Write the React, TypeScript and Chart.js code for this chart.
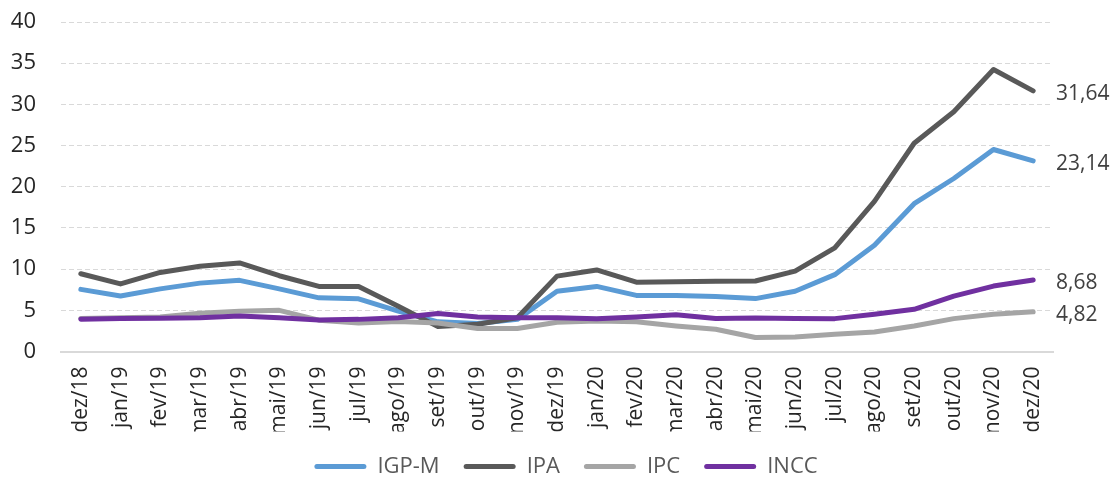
import React, { useEffect, useRef } from "react";
import { Chart, registerables } from "chart.js";

Chart.register(...registerables);

const categories = [
  "dez/18", "jan/19", "fev/19", "mar/19", "abr/19", "mai/19", "jun/19", "jul/19",
  "ago/19", "set/19", "out/19", "nov/19", "dez/19", "jan/20", "fev/20", "mar/20",
  "abr/20", "mai/20", "jun/20", "jul/20", "ago/20", "set/20", "out/20", "nov/20", "dez/20",
];

const seriesNames = ["IGP-M", "IPA", "IPC", "INCC"];

const igpm = [7.54, 6.74, 7.6, 8.3, 8.64, 7.6, 6.51, 6.4, 4.9, 3.6, 3.4, 3.9, 7.32, 7.9, 6.81, 6.81, 6.68, 6.42, 7.31, 9.33, 12.9, 17.94, 21.0, 24.52, 23.14];
const ipa = [9.44, 8.2, 9.6, 10.36, 10.75, 9.2, 7.9, 7.88, 5.5, 3.02, 3.3, 4.1, 9.15, 9.9, 8.42, 8.46, 8.52, 8.56, 9.75, 12.58, 18.22, 25.28, 29.1, 34.24, 31.64];
const ipc = [4.0, 4.1, 4.2, 4.65, 4.9, 5.0, 3.8, 3.45, 3.63, 3.45, 2.8, 2.8, 3.55, 3.7, 3.6, 3.1, 2.7, 1.7, 1.77, 2.09, 2.37, 3.1, 3.99, 4.51, 4.82];
const incc = [3.91, 4.0, 4.04, 4.11, 4.31, 4.11, 3.82, 3.9, 4.1, 4.6, 4.2, 4.1, 4.1, 3.99, 4.19, 4.45, 4.0, 4.07, 4.0, 3.99, 4.51, 5.12, 6.73, 7.94, 8.68];

const seriesValues = [igpm, ipa, ipc, incc];
const seriesColors = ["#5b9bd5", "#595959", "#a5a5a5", "#7030a0"];
const seriesOrder = [4, 3, 2, 1];

const yMin = 0;
const yMax = 40;
const yStep = 5;

const FONT = "'Open Sans', 'Noto Sans', sans-serif";

const endLabels = {
  id: "endLabels",
  afterDatasetsDraw(chart: any) {
    const ctx = chart.ctx;
    ctx.save();
    ctx.font = `21px ${FONT}`;
    ctx.fillStyle = "#404040";
    ctx.textAlign = "left";
    ctx.textBaseline = "middle";
    chart.data.datasets.forEach((ds: any, i: number) => {
      const meta = chart.getDatasetMeta(i);
      const pt = meta.data[meta.data.length - 1];
      const v = ds.data[ds.data.length - 1];
      ctx.fillText(v.toFixed(2).replace(".", ","), chart.chartArea.right + 3, pt.y + 3);
    });
    ctx.restore();
  },
};

const legendShift = {
  id: "legendShift",
  afterLayout(chart: any) {
    const lg = chart.legend;
    if (lg) {
      lg.left += 9;
      lg.right += 9;
    }
  },
};

export default function App() {
  const ref = useRef<HTMLCanvasElement>(null);

  useEffect(() => {
    if (!ref.current) return;
    const chart = new Chart(ref.current, {
      type: "line",
      data: {
        labels: categories,
        datasets: seriesNames.map((name, i) => ({
          label: name,
          data: seriesValues[i],
          borderColor: seriesColors[i],
          backgroundColor: seriesColors[i],
          borderWidth: 5,
          borderCapStyle: "round",
          borderJoinStyle: "round",
          pointRadius: 0,
          pointHoverRadius: 0,
          tension: 0,
          fill: false,
          order: seriesOrder[i],
        })),
      },
      options: {
        animation: false,
        responsive: true,
        maintainAspectRatio: false,
        layout: { padding: { left: 0, right: 65, top: 14, bottom: -12.5 } },
        plugins: {
          tooltip: { enabled: false },
          legend: {
            position: "bottom",
            fullSize: false,
            labels: {
              font: { size: 22, family: FONT },
              color: "#595959",
              boxWidth: 52,
              boxHeight: 5,
              useBorderRadius: true,
              borderRadius: 2.5,
              padding: 24,
              sort: (a: any, b: any) => a.datasetIndex - b.datasetIndex,
              generateLabels: (chart: any) =>
                (Chart.defaults.plugins.legend.labels.generateLabels as any)(chart).map((it: any) => ({
                  ...it,
                  fillStyle: seriesColors[it.datasetIndex],
                  strokeStyle: seriesColors[it.datasetIndex],
                  lineWidth: 0,
                })),
            },
          },
        },
        scales: {
          x: {
            type: "category",
            offset: true,
            grid: { display: false, drawTicks: false },
            border: { display: true, color: "#d9d9d9", width: 2 },
            ticks: {
              autoSkip: false,
              maxRotation: 90,
              minRotation: 90,
              padding: 15,
              color: "#262626",
              font: { size: 21, family: FONT },
            },
            afterFit: (s: any) => {
              s.height = 80;
            },
          },
          y: {
            min: yMin,
            max: yMax,
            ticks: {
              stepSize: yStep,
              padding: 0,
              color: "#262626",
              font: { size: 22, family: FONT },
            },
            grid: {
              drawTicks: true,
              tickLength: 25,
              tickColor: "rgba(0,0,0,0)",
              color: "#d9d9d9",
              lineWidth: (c: any) => (c.tick && c.tick.value === 0 ? 0 : 1),
            },
            border: { display: false, dash: [5, 3] },
            afterFit: (s: any) => {
              s.width = 53;
            },
          },
        },
      },
      plugins: [endLabels, legendShift],
    });
    return () => chart.destroy();
  }, []);

  return (
    <div style={{ position: "relative", width: 1110, height: 467 }}>
      <canvas ref={ref} />
    </div>
  );
}
